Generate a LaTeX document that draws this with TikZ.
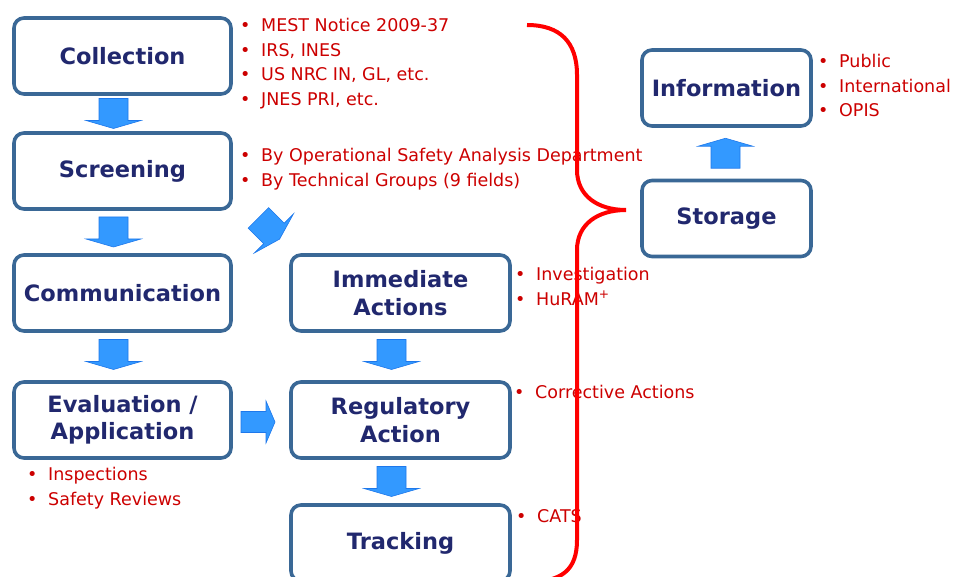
\documentclass[tikz,border=0pt]{standalone}
\usepackage{fontspec}
\setmainfont{DejaVu Sans}
\usetikzlibrary{calc}

\definecolor{boxline}{RGB}{58,104,150}
\definecolor{labelnavy}{RGB}{33,40,110}
\definecolor{notered}{RGB}{204,0,0}
\definecolor{arrowfill}{RGB}{51,153,255}
\definecolor{arrowedge}{RGB}{30,120,235}
\definecolor{bracered}{RGB}{255,0,0}

% bullet item for the red note lists
\newcommand\itm{\strut\makebox[21pt][l]{•}}

% block arrow: #1 centre, #2 angle, #3 half length, #4 head start,
% #5 shaft half width, #6 head half width
\newcommand\blockarrow[6]{%
  \filldraw[flowarrow, shift={#1}, rotate=#2]
    (-#3pt,-#5pt) -- (#4pt,-#5pt) -- (#4pt,-#6pt) -- (#3pt,0pt)
    -- (#4pt,#6pt) -- (#4pt,#5pt) -- (-#3pt,#5pt) -- cycle;}

\begin{document}
\begin{tikzpicture}[x=1pt,y=-1pt,
  stage/.style={draw=boxline, line width=3.6pt, rounded corners=10pt,
    fill=white, align=center, text=labelnavy, inner sep=0pt,
    font=\bfseries\fontsize{22.5}{27.5}\selectfont},
  notes/.style={anchor=north west, align=left, inner sep=0pt,
    text=notered, font=\fontsize{17.5}{24.5}\selectfont},
  flowarrow/.style={fill=arrowfill, draw=arrowedge, line width=0.6pt},
  brace/.style={draw=bracered, line width=4pt}]

\useasboundingbox (0,0) rectangle (955,577);

% process stages
\node[stage, minimum width=217pt, minimum height=76pt] (col) at (122.5,56)  {Collection};
\node[stage, minimum width=217pt, minimum height=76pt] (scr) at (122.5,171) {Screening};
\node[stage, minimum width=217pt, minimum height=76pt] (com) at (122.5,293) {Communication};
\node[stage, minimum width=217pt, minimum height=76pt] (eva) at (122.5,420) {Evaluation /\\Application};
\node[stage, minimum width=219pt, minimum height=76pt] (imm) at (400.5,293) {Immediate\\Actions};
\node[stage, minimum width=219pt, minimum height=76pt] (reg) at (400.5,420) {Regulatory\\Action};
\node[stage, minimum width=219pt, minimum height=76pt] (trk) at (400.5,543) {Tracking};
\node[stage, minimum width=169pt, minimum height=76pt] (inf) at (726.5,88)  {Information};
\node[stage, minimum width=169pt, minimum height=76pt] (sto) at (726.5,218.5) {Storage};

% notes beside the stages
\node[notes] (colnotes) at (240,14.35)
  {\itm MEST Notice 2009-37\\ \itm IRS, INES\\ \itm US NRC IN, GL, etc.\\ \itm JNES PRI, etc.};
\node[notes] (scrnotes) at (240,144.35)
  {\itm By Operational Safety Analysis Department\\ \itm By Technical Groups (9 fields)};
\node[notes] (immnotes) at (515,263.35)
  {\itm Investigation\\ \itm HuRAM\textsuperscript{+}};
\node[notes] (regnotes) at (514,381.35) {\itm Corrective Actions};
\node[notes] (trknotes) at (516,505.35) {\itm CATS};
\node[notes] (evanotes) at (27,463.35)
  {\itm Inspections\\ \itm Safety Reviews};
\node[notes] (infnotes) at (818,50.35)
  {\itm Public\\ \itm International\\ \itm OPIS};

% flow arrows between stages
\blockarrow{($(col.south)!.5!(scr.north)+(-9,0)$)}{-90}{15}{7}{14.5}{27.5}
\blockarrow{($(scr.south)!.5!(com.north)+(-9,0)$)}{-90}{15}{7}{14.5}{27.5}
\blockarrow{($(com.south)!.5!(eva.north)+(-9,-2)$)}{-90}{15}{7}{14.5}{27.5}
\blockarrow{($(imm.south)!.5!(reg.north)+(-9,-2)$)}{-90}{15}{7}{14.5}{27.5}
\blockarrow{($(reg.south)!.5!(trk.north)+(-9,0)$)}{-90}{15}{7}{14.5}{27.5}
\blockarrow{($(sto.north)!.5!(inf.south)+(-1,0)$)}{90}{15}{7}{14.5}{27.5}
\blockarrow{($(eva.east)!.5!(reg.west)+(-3,2)$)}{0}{17}{8}{10.5}{21}
\blockarrow{($(scr.south east)!.5!(imm.north west)+(8,-3.5)$)}{-45}{15}{7}{14.5}{27.5}

% brace gathering everything into storage
\draw[brace] (527,25) .. controls (560,25) and (577,42) .. (577,75)
  -- (577,170) .. controls (577,196) and (598,210) .. (626,210)
  .. controls (598,210) and (577,224) .. (577,250)
  -- (577,540) .. controls (577,570) and (562,582) .. (527,582);
\end{tikzpicture}
\end{document}
